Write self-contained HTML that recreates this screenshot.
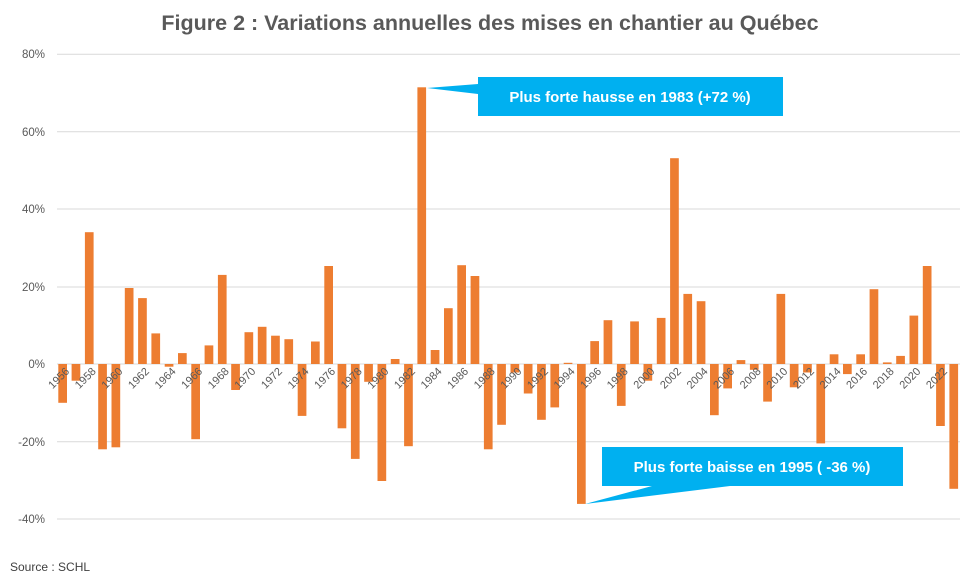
<!DOCTYPE html>
<html><head><meta charset="utf-8"><style>
body{margin:0;background:#fff;width:980px;height:583px;overflow:hidden}
svg{display:block;font-family:"Liberation Sans",sans-serif}
</style></head><body>
<svg width="980" height="583" viewBox="0 0 980 583">
<text x="490" y="30" text-anchor="middle" font-size="21.5" font-weight="bold" fill="#595959">Figure 2 : Variations annuelles des mises en chantier au Québec</text>
<g stroke="#d9d9d9" stroke-width="1">
<line x1="57" x2="960" y1="54.3" y2="54.3"/><line x1="57" x2="960" y1="131.7" y2="131.7"/><line x1="57" x2="960" y1="209" y2="209"/><line x1="57" x2="960" y1="287" y2="287"/><line x1="57" x2="960" y1="441.7" y2="441.7"/><line x1="57" x2="960" y1="519" y2="519"/>
<line x1="57" x2="960" y1="364" y2="364"/>
</g>
<g font-size="11.5" fill="#595959" text-anchor="end">
<text x="45" y="58">80%</text><text x="45" y="136">60%</text><text x="45" y="213">40%</text><text x="45" y="291">20%</text><text x="45" y="368">0%</text><text x="45" y="446">-20%</text><text x="45" y="523">-40%</text>
</g>
<g fill="#ed7d31">
<rect x="58.3" y="364" width="8.7" height="38.8"/>
<rect x="71.6" y="364" width="8.7" height="16.7"/>
<rect x="84.9" y="232.2" width="8.7" height="131.8"/>
<rect x="98.2" y="364" width="8.7" height="85.3"/>
<rect x="111.5" y="364" width="8.7" height="83.3"/>
<rect x="124.8" y="288" width="8.7" height="76"/>
<rect x="138.1" y="298.1" width="8.7" height="65.9"/>
<rect x="151.4" y="333.4" width="8.7" height="30.6"/>
<rect x="164.7" y="364" width="8.7" height="2.7"/>
<rect x="178" y="353.1" width="8.7" height="10.9"/>
<rect x="191.3" y="364" width="8.7" height="75.2"/>
<rect x="204.6" y="345.4" width="8.7" height="18.6"/>
<rect x="217.9" y="274.9" width="8.7" height="89.1"/>
<rect x="231.2" y="364" width="8.7" height="26"/>
<rect x="244.5" y="332.2" width="8.7" height="31.8"/>
<rect x="257.8" y="326.8" width="8.7" height="37.2"/>
<rect x="271.1" y="335.7" width="8.7" height="28.3"/>
<rect x="284.4" y="339.2" width="8.7" height="24.8"/>
<rect x="297.7" y="364" width="8.7" height="51.9"/>
<rect x="311" y="341.5" width="8.7" height="22.5"/>
<rect x="324.3" y="266" width="8.7" height="98"/>
<rect x="337.6" y="364" width="8.7" height="64.3"/>
<rect x="350.9" y="364" width="8.7" height="94.9"/>
<rect x="364.2" y="364" width="8.7" height="17.8"/>
<rect x="377.5" y="364" width="8.7" height="117"/>
<rect x="390.8" y="359" width="8.7" height="5"/>
<rect x="404.1" y="364" width="8.7" height="82.2"/>
<rect x="417.4" y="87.3" width="8.7" height="276.7"/>
<rect x="430.7" y="350" width="8.7" height="14"/>
<rect x="444" y="308.2" width="8.7" height="55.8"/>
<rect x="457.3" y="265.2" width="8.7" height="98.8"/>
<rect x="470.6" y="276" width="8.7" height="88"/>
<rect x="483.9" y="364" width="8.7" height="85.3"/>
<rect x="497.2" y="364" width="8.7" height="60.8"/>
<rect x="510.5" y="364" width="8.7" height="8.5"/>
<rect x="523.8" y="364" width="8.7" height="29.5"/>
<rect x="537.1" y="364" width="8.7" height="55.8"/>
<rect x="550.4" y="364" width="8.7" height="43.4"/>
<rect x="563.7" y="362.8" width="8.7" height="1.2"/>
<rect x="577" y="364" width="8.7" height="139.9"/>
<rect x="590.3" y="341.1" width="8.7" height="22.9"/>
<rect x="603.6" y="320.2" width="8.7" height="43.8"/>
<rect x="616.9" y="364" width="8.7" height="41.9"/>
<rect x="630.2" y="321.4" width="8.7" height="42.6"/>
<rect x="643.5" y="364" width="8.7" height="16.7"/>
<rect x="656.8" y="317.9" width="8.7" height="46.1"/>
<rect x="670.1" y="158.2" width="8.7" height="205.8"/>
<rect x="683.4" y="293.9" width="8.7" height="70.1"/>
<rect x="696.7" y="301.2" width="8.7" height="62.8"/>
<rect x="710" y="364" width="8.7" height="51.2"/>
<rect x="723.3" y="364" width="8.7" height="24.4"/>
<rect x="736.6" y="360.1" width="8.7" height="3.9"/>
<rect x="749.9" y="364" width="8.7" height="5.8"/>
<rect x="763.2" y="364" width="8.7" height="37.6"/>
<rect x="776.5" y="293.9" width="8.7" height="70.1"/>
<rect x="789.8" y="364" width="8.7" height="23.3"/>
<rect x="803.1" y="364" width="8.7" height="8.5"/>
<rect x="816.4" y="364" width="8.7" height="79.4"/>
<rect x="829.7" y="354.3" width="8.7" height="9.7"/>
<rect x="843" y="364" width="8.7" height="10.1"/>
<rect x="856.3" y="354.3" width="8.7" height="9.7"/>
<rect x="869.6" y="289.2" width="8.7" height="74.8"/>
<rect x="882.9" y="362.4" width="8.7" height="1.6"/>
<rect x="896.2" y="355.9" width="8.7" height="8.1"/>
<rect x="909.5" y="315.6" width="8.7" height="48.4"/>
<rect x="922.8" y="266" width="8.7" height="98"/>
<rect x="936.1" y="364" width="8.7" height="62"/>
<rect x="949.4" y="364" width="8.7" height="124.8"/>
</g>
<g font-size="11" fill="#595959" text-anchor="end">
<text transform="translate(70,372) rotate(-45)">1956</text>
<text transform="translate(96.6,372) rotate(-45)">1958</text>
<text transform="translate(123.2,372) rotate(-45)">1960</text>
<text transform="translate(149.8,372) rotate(-45)">1962</text>
<text transform="translate(176.4,372) rotate(-45)">1964</text>
<text transform="translate(203,372) rotate(-45)">1966</text>
<text transform="translate(229.6,372) rotate(-45)">1968</text>
<text transform="translate(256.2,372) rotate(-45)">1970</text>
<text transform="translate(282.8,372) rotate(-45)">1972</text>
<text transform="translate(309.4,372) rotate(-45)">1974</text>
<text transform="translate(336,372) rotate(-45)">1976</text>
<text transform="translate(362.6,372) rotate(-45)">1978</text>
<text transform="translate(389.2,372) rotate(-45)">1980</text>
<text transform="translate(415.8,372) rotate(-45)">1982</text>
<text transform="translate(442.4,372) rotate(-45)">1984</text>
<text transform="translate(469,372) rotate(-45)">1986</text>
<text transform="translate(495.6,372) rotate(-45)">1988</text>
<text transform="translate(522.2,372) rotate(-45)">1990</text>
<text transform="translate(548.8,372) rotate(-45)">1992</text>
<text transform="translate(575.4,372) rotate(-45)">1994</text>
<text transform="translate(602,372) rotate(-45)">1996</text>
<text transform="translate(628.6,372) rotate(-45)">1998</text>
<text transform="translate(655.2,372) rotate(-45)">2000</text>
<text transform="translate(681.8,372) rotate(-45)">2002</text>
<text transform="translate(708.4,372) rotate(-45)">2004</text>
<text transform="translate(735,372) rotate(-45)">2006</text>
<text transform="translate(761.6,372) rotate(-45)">2008</text>
<text transform="translate(788.2,372) rotate(-45)">2010</text>
<text transform="translate(814.8,372) rotate(-45)">2012</text>
<text transform="translate(841.4,372) rotate(-45)">2014</text>
<text transform="translate(868,372) rotate(-45)">2016</text>
<text transform="translate(894.6,372) rotate(-45)">2018</text>
<text transform="translate(921.2,372) rotate(-45)">2020</text>
<text transform="translate(947.8,372) rotate(-45)">2022</text>
</g>
<g fill="#00b0f0">
<polygon points="427,88 478,84 478,94"/>
<rect x="478" y="77" width="305" height="39"/>
<polygon points="585,504 652,486 730,486"/>
<rect x="602" y="447" width="301" height="39"/>
</g>
<g fill="#fff" font-size="15" font-weight="bold" text-anchor="middle">
<text x="630" y="102">Plus forte hausse en 1983 (+72 %)</text>
<text x="752" y="472">Plus forte baisse en 1995 ( -36 %)</text>
</g>
<text x="10" y="571" font-size="12" fill="#404040">Source : SCHL</text>
</svg>
</body></html>
